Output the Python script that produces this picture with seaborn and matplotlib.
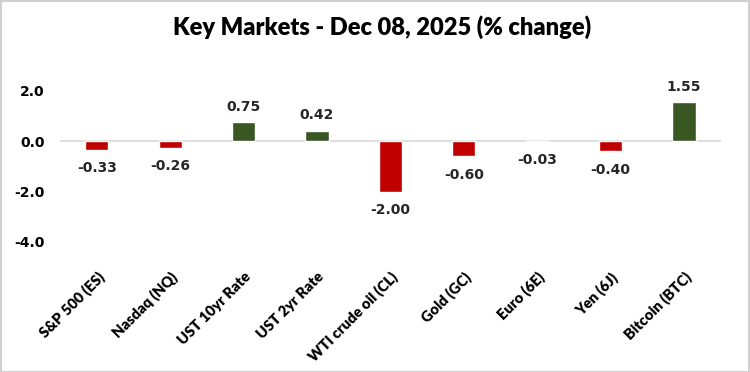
import matplotlib
matplotlib.use("Agg")
import matplotlib.pyplot as plt
import seaborn as sns
import pandas as pd
from matplotlib.patches import Rectangle

categories = ["S&P 500 (ES)", "Nasdaq (NQ)", "UST 10yr Rate", "UST 2yr Rate",
              "WTI crude oil (CL)", "Gold (GC)", "Euro (6E)", "Yen (6J)", "Bitcoin (BTC)"]
values = [-0.33, -0.26, 0.75, 0.42, -2.00, -0.60, -0.03, -0.40, 1.55]
y_ticks = [2.0, 0.0, -2.0, -4.0]
title = "Key Markets - Dec 08, 2025 (% change)"

RED = "#C00000"
GREEN = "#385723"

sns.set_theme(style="white")
plt.rcParams['font.family'] = ['DejaVu Sans']

df = pd.DataFrame({"cat": categories, "val": values})
df["sign"] = ["pos" if v >= 0 else "neg" for v in values]

fig = plt.figure(figsize=(7.5, 3.72), dpi=100)
ax = fig.add_axes([0.08, 0.3495, 0.881, 0.4059])
sns.barplot(data=df, x="cat", y="val", hue="sign", palette={"pos": GREEN, "neg": RED},
            width=0.315, dodge=False, legend=False, ax=ax, saturation=1)

ax.set_ylim(-4, 2)
ax.set_xlim(-0.5, len(categories) - 0.5)
ax.set_yticks(y_ticks)
ax.set_yticklabels([f"{t:.1f}" for t in y_ticks], fontsize=10, fontweight="bold", color="black")
ax.tick_params(axis="y", length=0, pad=11)
ax.tick_params(axis="x", length=0, pad=20)
ax.set_xticks(range(len(categories)))
ax.set_xticklabels(categories, rotation=45, ha="right", rotation_mode="anchor",
                   fontsize=10.6, fontweight="heavy", family="Lato", color="black")
for s in ax.spines.values():
    s.set_visible(False)
ax.axhline(0, color="#D9D9D9", lw=1.2, zorder=0)
ax.set_xlabel("")
ax.set_ylabel("")
ax.grid(False)

for i, v in enumerate(values):
    if v >= 0:
        ax.annotate(f"{v:.2f}", (i, v), xytext=(0, 6), textcoords="offset points",
                    ha="center", va="bottom", fontsize=10, fontweight="bold", annotation_clip=False)
    else:
        ax.annotate(f"{v:.2f}", (i, v), xytext=(0, -8), textcoords="offset points",
                    ha="center", va="top", fontsize=10, fontweight="bold", annotation_clip=False)

fig.text(0.5093, 0.927, title, ha="center", va="center", fontsize=17, fontweight="heavy",
         family="Lato", color="black")

fig.patches.append(Rectangle((0.001, 0.001), 0.997, 0.996, transform=fig.transFigure,
                             fill=False, edgecolor="#D0D0D0", lw=1.5))

fig.savefig("out.png", dpi=100)
